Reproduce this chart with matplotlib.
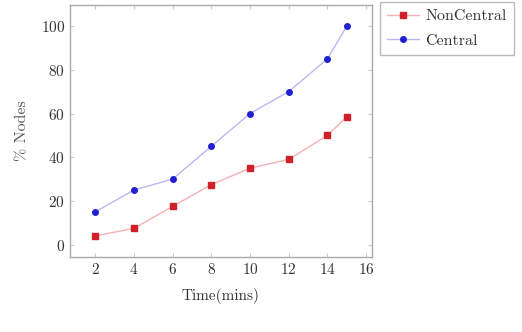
import matplotlib.pyplot as plt

plt.rcParams['font.family'] = ['cmr10', 'DejaVu Serif']
plt.rcParams['axes.formatter.use_mathtext'] = True

time_mins = [2, 4, 6, 8, 10, 12, 14, 15]
noncentral = [4, 7.5, 17.5, 27.5, 35, 39, 50, 58.5]
central = [15, 25, 30, 45, 60, 70, 85, 100]
xticks = [2, 4, 6, 8, 10, 12, 14, 16]
yticks = [0, 20, 40, 60, 80, 100]

fig = plt.figure(figsize=(5.22, 3.32), dpi=100)
ax = fig.add_axes([70/522, 1 - 257/332, 302/522, 252/332])

ax.plot(time_mins, noncentral, color='#f6b0b0', linewidth=1.0,
        marker='s', markersize=4, markerfacecolor='#d0202a',
        markeredgecolor='#d0202a', label='NonCentral')
ax.plot(time_mins, central, color='#b8b8f4', linewidth=1.0,
        marker='o', markersize=4, markerfacecolor='#2020d0',
        markeredgecolor='#2020d0', label='Central')

ax.set_xlim(0.7, 16.3)
ax.set_ylim(-5.6, 109.6)
ax.set_xticks(xticks)
ax.set_yticks(yticks)
ax.tick_params(direction='in', top=True, right=True, length=3,
               color='#cccccc', labelsize=11, labelcolor='#333333')
for s in ax.spines.values():
    s.set_color('#aaaaaa')
    s.set_linewidth(1.0)

ax.set_xlabel('Time(mins)', fontsize=11, color='#333333', labelpad=8)
ax.set_ylabel('% Nodes', fontsize=11.5, color='#555555', labelpad=8)

leg = ax.legend(loc='upper left', bbox_to_anchor=(1.025, 1.012), fontsize=11.5,
                frameon=True, fancybox=False, edgecolor='#aaaaaa',
                handlelength=2.0, borderpad=0.45, labelspacing=0.65,
                handletextpad=0.4, borderaxespad=0)
leg.get_frame().set_linewidth(1.0)
for t in leg.get_texts():
    t.set_color('#333333')

fig.savefig('out.png', dpi=100)
